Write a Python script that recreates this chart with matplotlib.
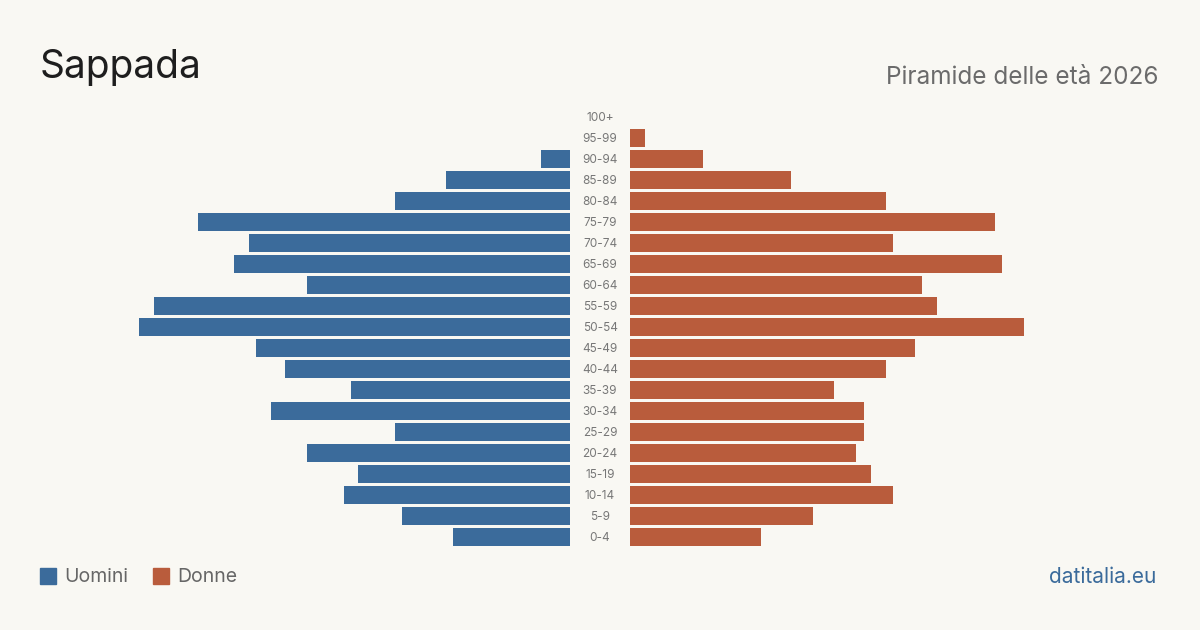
import matplotlib
matplotlib.use("Agg")
import matplotlib.pyplot as plt
import matplotlib.transforms as mtransforms
from matplotlib.patches import Rectangle

plt.rcParams["font.family"] = ["Inter", "DejaVu Sans"]

BG = "#f9f8f3"
BLUE = "#3b6b9b"
ORANGE = "#b95c3c"

# fasce d'età dal basso verso l'alto
eta = ["0-4", "5-9", "10-14", "15-19", "20-24", "25-29", "30-34", "35-39",
       "40-44", "45-49", "50-54", "55-59", "60-64", "65-69", "70-74", "75-79",
       "80-84", "85-89", "90-94", "95-99", "100+"]
uomini = [16, 23, 31, 29, 36, 24, 41, 30, 39, 43, 59, 57, 36, 46, 44, 51, 24, 17, 4, 0, 0]
donne = [18, 25, 36, 33, 31, 32, 32, 28, 35, 39, 54, 42, 40, 51, 36, 50, 35, 22, 10, 2, 0]

W, H = 1200, 630
fig = plt.figure(figsize=(W / 100, H / 100), dpi=100, facecolor=BG)

xmax = 530 / 7.3
bottom = (H - 547.5) / H
height = 441 / H
ax_l = fig.add_axes([40 / W, bottom, 530 / W, height])
ax_r = fig.add_axes([630 / W, bottom, 530 / W, height])

pos = list(range(len(eta)))
ax_l.barh(pos, uomini, height=0.81, color=BLUE)
ax_r.barh(pos, donne, height=0.81, color=ORANGE)
ax_l.set_xlim(xmax, 0)
ax_r.set_xlim(0, xmax)

for ax in (ax_l, ax_r):
    ax.set_ylim(-0.5, len(eta) - 0.5)
    ax.set_facecolor("none")
    ax.axis("off")

trans = mtransforms.blended_transform_factory(fig.transFigure, ax_r.transData)
for i, lab in enumerate(eta):
    fig.text(0.5, i - 0.05, lab, transform=trans, ha="center", va="center",
             fontsize=8.5, color="#777777")

fig.text(40 / W, 1 - 68 / H, "Sappada", fontsize=28, color="#1e1e1e",
         ha="left", va="center")
fig.text(1158 / W, 1 - 78 / H, "Piramide delle età 2026", fontsize=17.5,
         color="#6b6b6b", ha="right", va="center")

# legenda
for x0, col, txt in [(40, BLUE, "Uomini"), (153, ORANGE, "Donne")]:
    fig.add_artist(Rectangle((x0 / W, 1 - 584 / H), 16 / W, 16 / H,
                             transform=fig.transFigure, color=col))
    fig.text((x0 + 24) / W, 1 - 577 / H, txt, fontsize=14, color="#666666",
             ha="left", va="center")

fig.text(1156 / W, 1 - 577 / H, "datitalia.eu", fontsize=15, color=BLUE,
         ha="right", va="center")

fig.savefig("out.png", dpi=100, facecolor=BG)
